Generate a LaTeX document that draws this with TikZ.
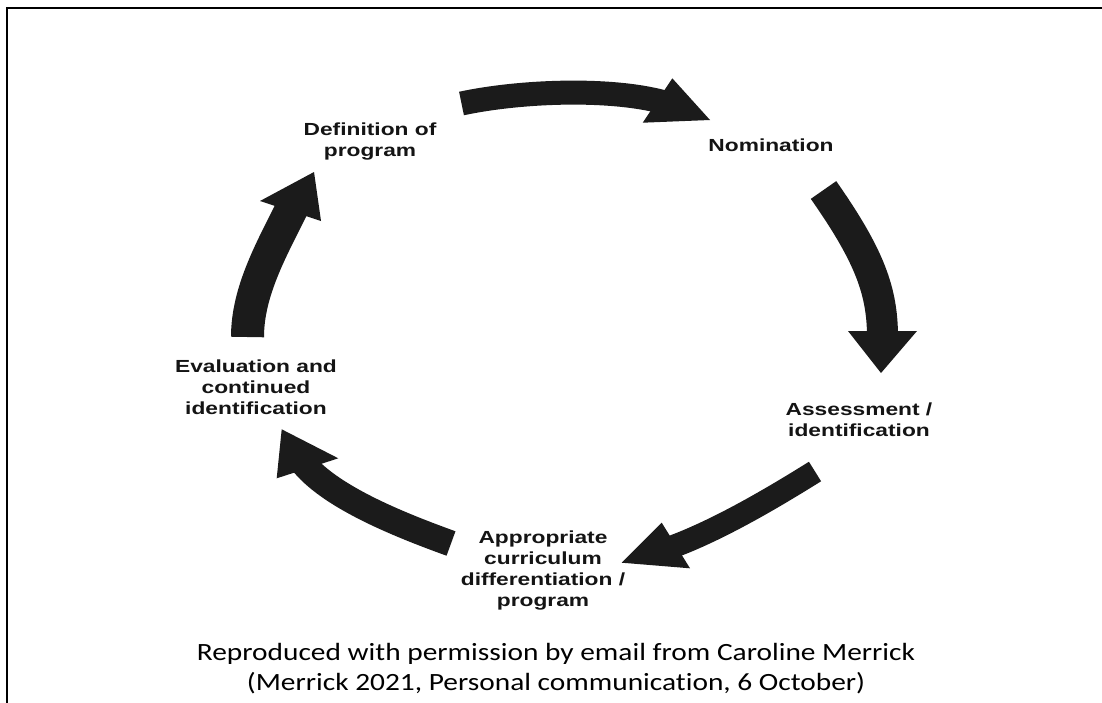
\documentclass[tikz,border=0pt]{standalone}
\usepackage{fontspec}
\newfontfamily\stagefont[FakeStretch=1.3]{Liberation Sans}
\newfontfamily\notefont[FakeStretch=1.185,Ligatures=NoCommon]{Carlito}
\definecolor{arrowfill}{RGB}{27,27,27}
\tikzset{
  stage/.style={font=\stagefont\bfseries\fontsize{17.5}{21}\selectfont,
    align=center, inner sep=0pt, text=black!92},
  cyclebody/.style={draw=arrowfill, line cap=butt},
  cyclehead/.style={fill=arrowfill},
  frameline/.style={line width=2.2pt, black},
}
\begin{document}
\begin{tikzpicture}[x=1pt,y=-1pt]
\useasboundingbox (0,0) rectangle (1102,702);
\fill[white] (0,0) rectangle (1102,702);

% open frame: top and left edges
\draw[frameline] (7,703) -- (7,7.7) -- (1103,7.7);

% stage labels
\node[stage] (def)  at (370,142) {Definition of\\program};
\node[stage] (nom)  at (771,145) {Nomination};
\node[stage] (ass)  at (859,420) {Assessment /\\identification};
\node[stage] (appr) at (543,571) {Appropriate\\curriculum\\differentiation /\\program};
\node[stage] (eval) at (256,387) {Evaluation and\\continued\\identification};

% arrow 1: definition -> nomination
\coordinate (t1) at (461.5,103.5);
\coordinate (e1) at (663.3,102.1);
\draw[cyclebody, line width=24pt] (t1) .. controls (520,91) and (609.2,87.6) .. (e1);
\fill[cyclehead] (672.3,78.3) -- (710,120) -- (642.7,122.7) -- cycle;

% arrow 2: nomination -> assessment
\coordinate (t2) at (823.5,190);
\coordinate (e2) at (882.5,337);
\draw[cyclebody, line width=31pt] (t2) .. controls (869.4,255.5) and (882.5,291) .. (e2);
\fill[cyclehead] (848,331) -- (917,331) -- (881,373) -- cycle;

% arrow 3: assessment -> curriculum
\coordinate (t3) at (815,471.5);
\coordinate (e3) at (670.3,547.6);
\draw[cyclebody, line width=23pt] (t3) .. controls (772.6,498) and (718.2,530.1) .. (e3);
\fill[cyclehead] (661.7,522.7) -- (690,568.3) -- (621.7,562.7) -- cycle;

% arrow 4: curriculum -> evaluation
\coordinate (t4) at (451,543.5);
\coordinate (e4) at (303.6,463.7);
\draw[cyclebody, line width=26pt] (t4) .. controls (404,526.4) and (333.2,499) .. (e4);
\fill[cyclehead] (338.3,458.3) -- (276.7,478.3) -- (281.7,429.3) -- cycle;

% arrow 5: evaluation -> definition
\coordinate (t5) at (247.5,337);
\coordinate (e5) at (293.1,205.6);
\draw[cyclebody, line width=33pt] (t5) .. controls (247.5,290) and (273,246.9) .. (e5);
\fill[cyclehead] (260,201) -- (321,221) -- (314,172) -- cycle;

% source note
\node[font=\notefont\fontsize{24.8}{30}\selectfont, align=center, inner sep=0pt] (src)
  at (556,669) {Reproduced with permission by email from Caroline Merrick\\(Merrick 2021, Personal communication, 6 October)};
\end{tikzpicture}
\end{document}
